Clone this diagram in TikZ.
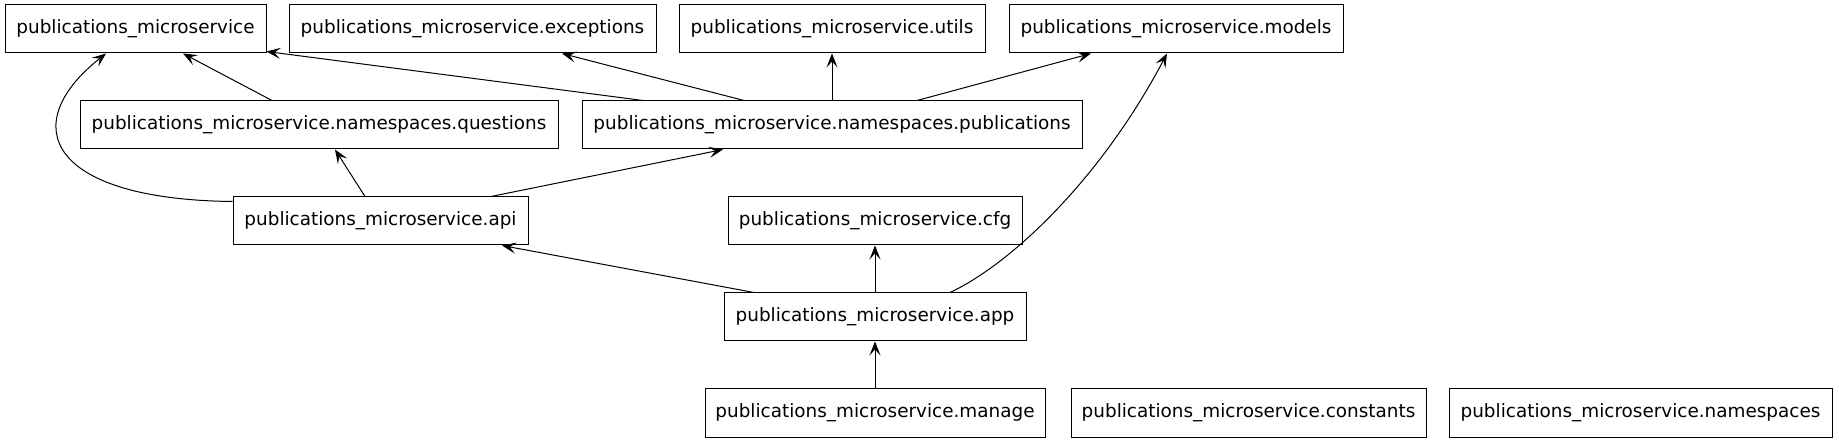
\documentclass[tikz,border=0pt]{standalone}
\usepackage{fontspec}
\setmainfont{DejaVu Sans}
\usetikzlibrary{arrows.meta}
\begin{document}
\begin{tikzpicture}[x=1pt,y=-1pt,
  mod/.style={draw, line width=1pt, inner sep=0pt, minimum height=48pt,
    font=\fontsize{18.4}{22}\selectfont},
  dep/.style={line width=1pt, -{Stealth[length=14pt,width=11pt,inset=6pt]}}]
\useasboundingbox (0,0) rectangle (1839,443);
\node[mod, minimum width=261pt] (pm) at (135.5,29) {publications\_microservice};
\node[mod, minimum width=367pt] (exc) at (472.5,29) {publications\_microservice.exceptions};
\node[mod, minimum width=306pt] (utils) at (832,29) {publications\_microservice.utils};
\node[mod, minimum width=334pt] (models) at (1176,29) {publications\_microservice.models};
\node[mod, minimum width=478pt] (quest) at (319,125) {publications\_microservice.namespaces.questions};
\node[mod, minimum width=500pt] (pub) at (832,125) {publications\_microservice.namespaces.publications};
\node[mod, minimum width=295pt] (api) at (380.5,221) {publications\_microservice.api};
\node[mod, minimum width=294pt] (cfg) at (875,221) {publications\_microservice.cfg};
\node[mod, minimum width=302pt] (app) at (875,317) {publications\_microservice.app};
\node[mod, minimum width=340pt] (manage) at (875,413) {publications\_microservice.manage};
\node[mod, minimum width=355pt] (const) at (1248.5,413) {publications\_microservice.constants};
\node[mod, minimum width=383pt] (ns) at (1640.5,413) {publications\_microservice.namespaces};

\draw[dep] ([xshift=-47pt]quest.north) -- ([xshift=47.5pt]pm.south);
\draw[dep] ([xshift=-189pt]pub.north) -- ([yshift=2pt]pm.south east);
\draw[dep] ([xshift=-88pt]pub.north) -- ([xshift=89.5pt]exc.south);
\draw[dep] (pub.north) -- (utils.south);
\draw[dep] ([xshift=85pt]pub.north) -- ([xshift=-85pt]models.south);
\draw[dep] ([yshift=-5pt]api.north west) .. controls +(-183,-2) and +(-91,72) .. ([xshift=-29.5pt]pm.south);
\draw[dep] ([xshift=-15.5pt]api.north) -- ([xshift=16pt]quest.south);
\draw[dep] ([xshift=110.5pt]api.north) -- ([xshift=-109pt]pub.south);
\draw[dep] ([xshift=-121pt]app.north) -- ([xshift=121.5pt]api.south);
\draw[dep] (app.north) -- (cfg.south);
\draw[dep] ([xshift=75pt]app.north) .. controls +(60,-28) and +(-67,127) .. ([xshift=-9pt]models.south);
\draw[dep] (manage.north) -- (app.south);
\end{tikzpicture}
\end{document}
